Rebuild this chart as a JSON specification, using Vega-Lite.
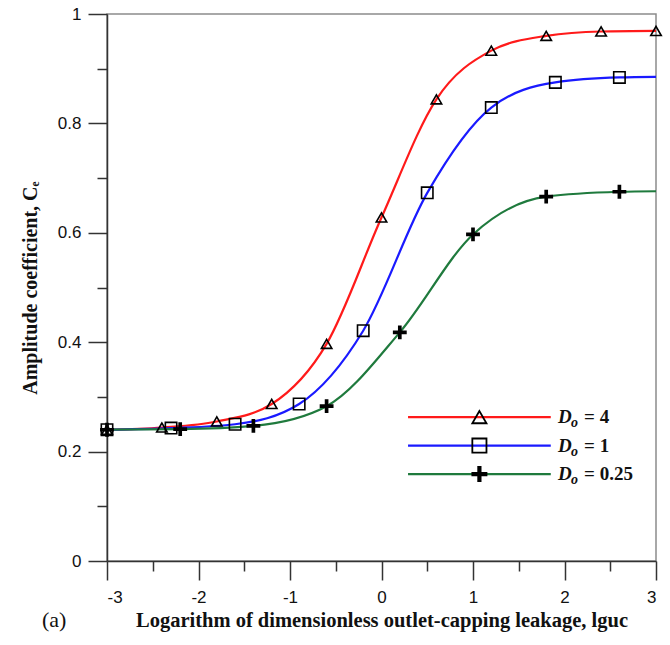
{
  "$schema": "https://vega.github.io/schema/vega-lite/v6.json",
  "width": 549,
  "height": 547,
  "autosize": {"type": "none"},
  "padding": {"left": 107, "top": 14, "right": 14, "bottom": 84},
  "background": "white",
  "config": {
    "view": {"stroke": "#8c8c8c", "strokeWidth": 1.5},
    "axis": {"grid": false}
  },
  "datasets": {
    "curves": [
      {"series": "4", "x": -3, "y": 0.24}, {"series": "4", "x": -2.4, "y": 0.244}, {"series": "4", "x": -1.8, "y": 0.255},
      {"series": "4", "x": -1.2, "y": 0.287}, {"series": "4", "x": -0.6, "y": 0.397}, {"series": "4", "x": 0, "y": 0.628},
      {"series": "4", "x": 0.6, "y": 0.844}, {"series": "4", "x": 1.2, "y": 0.933}, {"series": "4", "x": 1.8, "y": 0.96},
      {"series": "4", "x": 2.4, "y": 0.968}, {"series": "4", "x": 3, "y": 0.969},
      {"series": "1", "x": -3, "y": 0.24}, {"series": "1", "x": -2.3, "y": 0.243}, {"series": "1", "x": -1.6, "y": 0.25},
      {"series": "1", "x": -0.9, "y": 0.287}, {"series": "1", "x": -0.2, "y": 0.421}, {"series": "1", "x": 0.5, "y": 0.673},
      {"series": "1", "x": 1.2, "y": 0.829}, {"series": "1", "x": 1.9, "y": 0.875}, {"series": "1", "x": 2.6, "y": 0.884},
      {"series": "1", "x": 3, "y": 0.885},
      {"series": "0.25", "x": -3, "y": 0.24}, {"series": "0.25", "x": -2.2, "y": 0.241}, {"series": "0.25", "x": -1.4, "y": 0.247},
      {"series": "0.25", "x": -0.6, "y": 0.283}, {"series": "0.25", "x": 0.2, "y": 0.418}, {"series": "0.25", "x": 1.0, "y": 0.597},
      {"series": "0.25", "x": 1.8, "y": 0.666}, {"series": "0.25", "x": 2.6, "y": 0.675}, {"series": "0.25", "x": 3, "y": 0.676}
    ],
    "markers": [
      {"series": "4", "x": -3, "y": 0.24}, {"series": "4", "x": -2.4, "y": 0.244}, {"series": "4", "x": -1.8, "y": 0.255},
      {"series": "4", "x": -1.2, "y": 0.287}, {"series": "4", "x": -0.6, "y": 0.397}, {"series": "4", "x": 0, "y": 0.628},
      {"series": "4", "x": 0.6, "y": 0.844}, {"series": "4", "x": 1.2, "y": 0.933}, {"series": "4", "x": 1.8, "y": 0.96},
      {"series": "4", "x": 2.4, "y": 0.968}, {"series": "4", "x": 3, "y": 0.969},
      {"series": "1", "x": -3, "y": 0.24}, {"series": "1", "x": -2.3, "y": 0.243}, {"series": "1", "x": -1.6, "y": 0.25},
      {"series": "1", "x": -0.9, "y": 0.287}, {"series": "1", "x": -0.2, "y": 0.421}, {"series": "1", "x": 0.5, "y": 0.673},
      {"series": "1", "x": 1.2, "y": 0.829}, {"series": "1", "x": 1.9, "y": 0.875}, {"series": "1", "x": 2.6, "y": 0.884},
      {"series": "0.25", "x": -3, "y": 0.24}, {"series": "0.25", "x": -2.2, "y": 0.241}, {"series": "0.25", "x": -1.4, "y": 0.247},
      {"series": "0.25", "x": -0.6, "y": 0.283}, {"series": "0.25", "x": 0.2, "y": 0.418}, {"series": "0.25", "x": 1.0, "y": 0.597},
      {"series": "0.25", "x": 1.8, "y": 0.666}, {"series": "0.25", "x": 2.6, "y": 0.675}
    ],
    "legend": [
      {"series": "4", "label": "= 4", "x0": 0.29, "x1": 1.85, "xm": 1.07, "tx": 1.93, "y": 0.263},
      {"series": "1", "label": "= 1", "x0": 0.29, "x1": 1.85, "xm": 1.07, "tx": 1.93, "y": 0.211},
      {"series": "0.25", "label": "= 0.25", "x0": 0.29, "x1": 1.85, "xm": 1.07, "tx": 1.93, "y": 0.159}
    ]
  },
  "layer": [
    {
      "data": {"name": "curves"},
      "mark": {"type": "line", "interpolate": "monotone", "strokeWidth": 2.2},
      "encoding": {
        "x": {
          "field": "x", "type": "quantitative",
          "scale": {"domain": [-3, 3], "nice": false, "zero": false},
          "axis": {
            "orient": "bottom",
            "values": [-3, -2, -1, 0, 1, 2, 3],
            "labelExpr": "'' + datum.value",
            "tickSize": 19, "tickWidth": 1.5, "tickColor": "#333",
            "domainColor": "#333", "domainWidth": 1.5,
            "labelFont": "Liberation Sans", "labelFontSize": 17, "labelColor": "#111", "labelPadding": 9,
            "title": "Logarithm of dimensionless outlet-capping leakage, lguc",
            "titleFont": "Liberation Serif", "titleFontSize": 20.5, "titleFontWeight": "bold", "titleColor": "#111",
            "titlePadding": 5
          }
        },
        "y": {
          "field": "y", "type": "quantitative",
          "scale": {"domain": [0, 1], "nice": false},
          "axis": {
            "orient": "left",
            "values": [0, 0.2, 0.4, 0.6, 0.8, 1],
            "format": ".1~f",
            "tickSize": 19, "tickWidth": 1.5, "tickColor": "#333",
            "domainColor": "#333", "domainWidth": 1.5,
            "labelFont": "Liberation Sans", "labelFontSize": 17, "labelColor": "#111", "labelPadding": 7,
            "title": "Amplitude coefficient, Cₑ",
            "titleFont": "Liberation Serif", "titleFontSize": 20, "titleFontWeight": "bold", "titleColor": "#111",
            "titlePadding": 17
          }
        },
        "color": {
          "field": "series", "type": "nominal",
          "scale": {"domain": ["4", "1", "0.25"], "range": ["#ff1a1a", "#1a1aff", "#1f7a3d"]},
          "legend": null
        },
        "detail": {"field": "series"}
      }
    },
    {
      "data": {"name": "markers"},
      "mark": {"type": "point", "stroke": "black", "strokeWidth": 1.6, "opacity": 1},
      "encoding": {
        "x": {
          "field": "x", "type": "quantitative",
          "axis": {
            "orient": "bottom",
            "values": [-2.5, -1.5, -0.5, 0.5, 1.5, 2.5],
            "labels": false, "domain": false, "title": null,
            "tickSize": 10, "tickWidth": 1.5, "tickColor": "#333"
          }
        },
        "y": {
          "field": "y", "type": "quantitative",
          "axis": {
            "orient": "left",
            "values": [0.1, 0.3, 0.5, 0.7, 0.9],
            "labels": false, "domain": false, "title": null,
            "tickSize": 10, "tickWidth": 1.5, "tickColor": "#333"
          }
        },
        "shape": {
          "field": "series", "type": "nominal",
          "scale": {"domain": ["4", "1", "0.25"], "range": ["triangle-up", "square", "M-1,-0.17H1V0.17H-1Z M-0.17,-1H0.17V1H-0.17Z"]},
          "legend": null
        },
        "fill": {
          "field": "series", "type": "nominal",
          "scale": {"domain": ["4", "1", "0.25"], "range": ["transparent", "transparent", "black"]},
          "legend": null
        },
        "size": {
          "field": "series", "type": "nominal",
          "scale": {"domain": ["4", "1", "0.25"], "range": [110, 150, 150]},
          "legend": null
        }
      }
    },
    {
      "data": {"name": "legend"},
      "mark": {"type": "rule", "strokeWidth": 2.2},
      "encoding": {
        "x": {"field": "x0", "type": "quantitative", "axis": null},
        "x2": {"field": "x1"},
        "y": {"field": "y", "type": "quantitative", "axis": null},
        "color": {"field": "series", "type": "nominal", "legend": null}
      }
    },
    {
      "data": {"name": "legend"},
      "mark": {"type": "point", "stroke": "black", "strokeWidth": 1.8, "opacity": 1},
      "encoding": {
        "x": {"field": "xm", "type": "quantitative", "axis": null},
        "y": {"field": "y", "type": "quantitative", "axis": null},
        "shape": {"field": "series", "type": "nominal", "legend": null},
        "fill": {"field": "series", "type": "nominal", "legend": null},
        "size": {"value": 200}
      }
    },
    {
      "data": {"name": "legend"},
      "mark": {"type": "text", "align": "left", "baseline": "middle", "font": "Liberation Serif", "fontSize": 19, "fontWeight": "bold", "fontStyle": "italic", "color": "#111"},
      "encoding": {
        "x": {"field": "tx", "type": "quantitative", "axis": null},
        "y": {"field": "y", "type": "quantitative", "axis": null},
        "text": {"value": "D"}
      }
    },
    {
      "data": {"name": "legend"},
      "mark": {"type": "text", "align": "left", "baseline": "middle", "font": "Liberation Serif", "fontSize": 14, "fontWeight": "bold", "fontStyle": "italic", "color": "#111", "dx": 13, "dy": 6},
      "encoding": {
        "x": {"field": "tx", "type": "quantitative", "axis": null},
        "y": {"field": "y", "type": "quantitative", "axis": null},
        "text": {"value": "o"}
      }
    },
    {
      "data": {"name": "legend"},
      "mark": {"type": "text", "align": "left", "baseline": "middle", "font": "Liberation Serif", "fontSize": 19, "fontWeight": "bold", "color": "#111", "dx": 26},
      "encoding": {
        "x": {"field": "tx", "type": "quantitative", "axis": null},
        "y": {"field": "y", "type": "quantitative", "axis": null},
        "text": {"field": "label"}
      }
    }
  ],
  "resolve": {"axis": {"x": "independent", "y": "independent"}},
  "title": {
    "text": "(a)",
    "orient": "bottom",
    "anchor": "start",
    "frame": "group",
    "font": "Liberation Serif",
    "fontSize": 22,
    "fontWeight": "normal",
    "color": "#111",
    "dx": -65,
    "dy": -25
  }
}
